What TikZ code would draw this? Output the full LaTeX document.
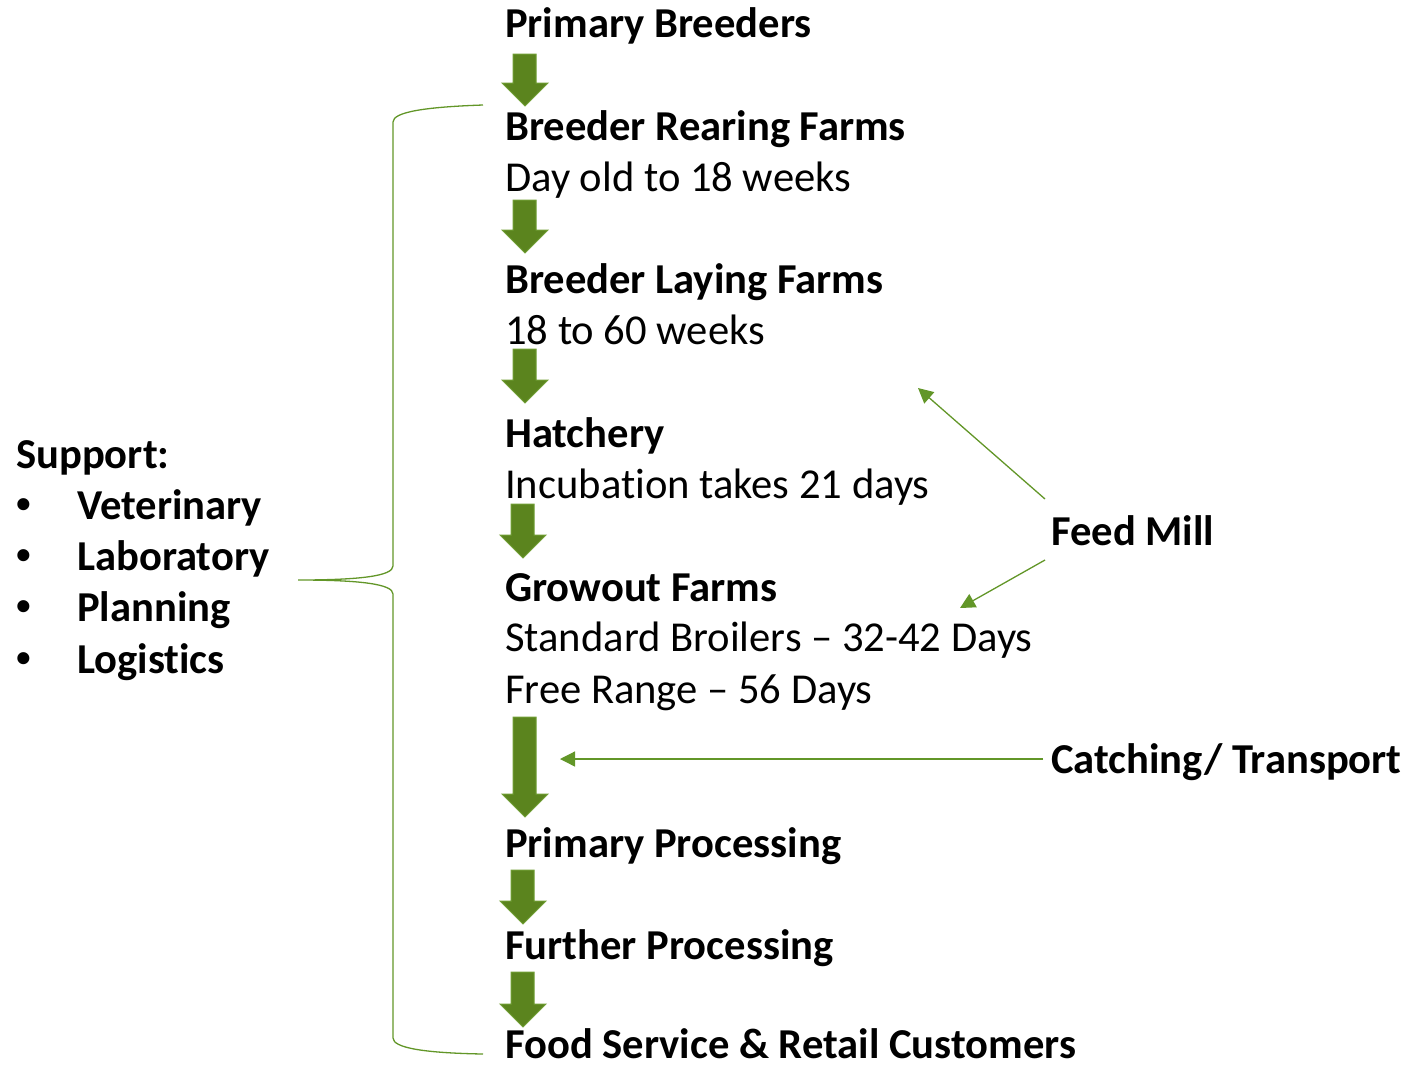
\documentclass[tikz,border=0pt]{standalone}
\usepackage{fontspec}
\setmainfont{Carlito}[Ligatures=NoCommon]
\newfontfamily\bulletfont{Liberation Sans}
\usetikzlibrary{arrows.meta}
\definecolor{arrfill}{RGB}{91,132,30}
\definecolor{arredge}{RGB}{112,158,52}
\definecolor{linegreen}{RGB}{98,150,40}
\tikzset{
  txt/.style={anchor=base west, inner sep=0pt, font=\fontsize{42.6}{51}\selectfont},
  btxt/.style={txt, font=\fontsize{42.6}{51}\selectfont\bfseries},
  bullettxt/.style={anchor=base west, inner sep=0pt, font=\bulletfont\bfseries\fontsize{42}{51}\selectfont},
  thin connector/.style={draw=linegreen, line width=1.3pt, -{Triangle[length=15pt,width=15pt]}},
  brace line/.style={draw=linegreen, line width=1.3pt},
  blockarrow/.style={fill=arrfill, draw=arredge, line width=1pt, line join=miter},
}
% block down arrow: #1 = left x, #2 = top y, #3 = tip y
\newcommand{\downblock}[3]{%
  \path[blockarrow] (#1+11,#2) -- (#1+34,#2) -- (#1+34,#3-23) -- (#1+46,#3-23)
    -- (#1+23,#3) -- (#1,#3-23) -- (#1+11,#3-23) -- cycle;}
\begin{document}
\begin{tikzpicture}[x=1pt,y=-1pt]
\useasboundingbox (0,0) rectangle (1408,1066);

% main chain
\node[btxt] (pb)  at (505,37)  {Primary Breeders};
\node[btxt] (brf) at (505,140) {Breeder Rearing Farms};
\node[txt]  (brfa) at (505,191) {Day old to 18 weeks};
\node[btxt] (blf) at (505,293) {Breeder Laying Farms};
\node[txt]  (blfa) at (505,344) {18 to 60 weeks};
\node[btxt] (hat) at (505,447) {Hatchery};
\node[txt]  (hata) at (505,498) {Incubation takes 21 days};
\node[btxt] (gf)  at (505,601) {Growout Farms};
\node[txt]  (gfa) at (505,651) {Standard Broilers -- 32-42 Days};
\node[txt]  (gfb) at (505,703) {Free Range -- 56 Days};
\node[btxt] (pp)  at (505,857) {Primary Processing};
\node[btxt] (fp)  at (505,959) {Further Processing};
\node[btxt, text depth=0pt] (fs)  at (505,1058) {Food Service \& Retail Customers};

% side texts
\node[btxt] (fm)  at (1051,545) {Feed Mill};
\node[btxt] (ct)  at (1051,773) {Catching/ Transport};
\node[btxt] (sup) at (16,468) {Support:};
\node[bullettxt] (b1)  at (16,518) {•};
\node[btxt] (s1)  at (77,519) {Veterinary};
\node[bullettxt] (b2)  at (16,569) {•};
\node[btxt] (s2)  at (77,570) {Laboratory};
\node[bullettxt] (b3)  at (16,620) {•};
\node[btxt] (s3)  at (77,621) {Planning};
\node[bullettxt] (b4)  at (16,672) {•};
\node[btxt] (s4)  at (77,673) {Logistics};

% block arrows
\downblock{502}{54}{106}
\downblock{502}{200}{253}
\downblock{502}{349}{403}
\downblock{500}{504}{558}
\downblock{502}{717}{817}
\downblock{500}{870}{924}
\downblock{500}{972}{1027}

% thin connectors
\coordinate (fmU) at (1045,499);
\coordinate (fmD) at (1045,560);
\coordinate (fmUt) at (918,388);
\coordinate (fmDt) at (960,608);
\coordinate (ctS) at (1043,759);
\coordinate (ctT) at (560,759);
\draw[thin connector] (fmU) -- (fmUt);
\draw[thin connector] (fmD) -- (fmDt);
\draw[thin connector] (ctS) -- (ctT);

% brace
\coordinate (brTop) at (483,105);
\coordinate (brMid) at (298,580);
\coordinate (brBot) at (483,1054);
\draw[brace line] (brTop) .. controls (425,107) and (393,112) .. (393,122)
  -- (393,566) .. controls (393,576) and (360,580) .. (brMid)
  .. controls (360,580) and (393,584) .. (393,594)
  -- (393,1038) .. controls (393,1048) and (425,1053) .. (brBot);
\end{tikzpicture}
\end{document}
